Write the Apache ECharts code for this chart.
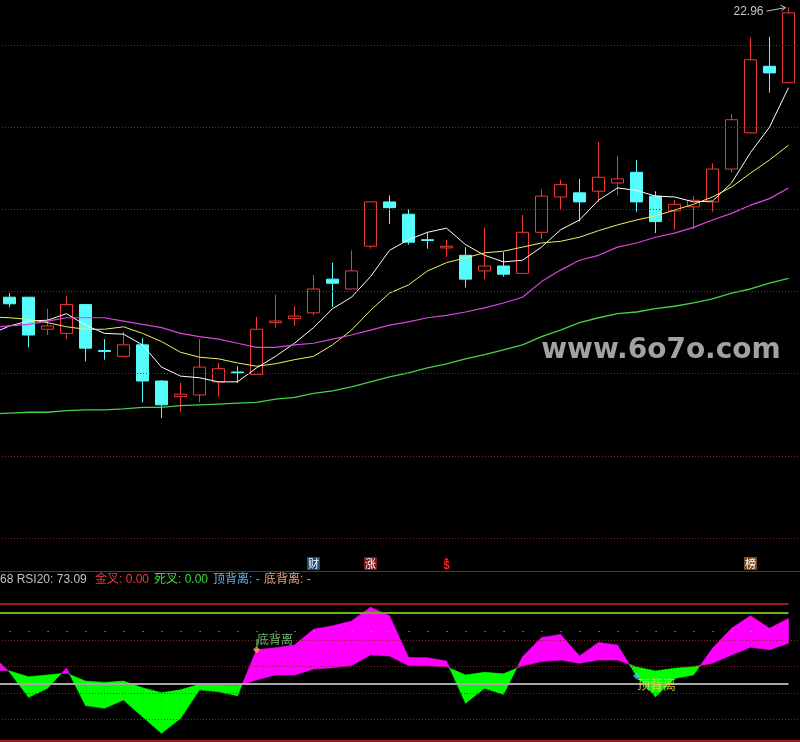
<!DOCTYPE html>
<html><head><meta charset="utf-8">
<script src="https://cdn.jsdelivr.net/npm/echarts@6/dist/echarts.min.js"></script>
<style>html,body{margin:0;padding:0;background:#000;width:800px;height:742px;overflow:hidden;position:relative;}#c{position:absolute;left:-19px;top:0;width:819px;height:742px;}</style>
</head><body><div id="c"></div>
<script>
// categories (first one is the partially hidden bar at the left edge)
const days = ['d00','d01','d02','d03','d04','d05','d06','d07','d08','d09','d10','d11','d12','d13','d14','d15','d16','d17','d18','d19','d20','d21','d22','d23','d24','d25','d26','d27','d28','d29','d30','d31','d32','d33','d34','d35','d36','d37','d38','d39','d40','d41','d42'];
// OHLC for the 42 visible candles
const opens  = [19.43,19.43,19.04,18.99,19.34,18.78,18.71,18.85,18.41,18.22,18.24,18.40,18.52,18.49,19.12,19.17,19.24,19.65,19.53,20.05,20.59,20.44,20.13,20.03,19.94,19.75,19.81,19.72,20.22,20.65,20.70,20.72,20.82,20.95,20.66,20.48,20.53,20.59,20.99,21.43,22.24,22.04];
const closes = [19.35,18.97,19.08,19.34,18.81,18.77,18.85,18.41,18.12,18.25,18.58,18.56,18.51,19.04,19.14,19.20,19.53,19.60,19.75,20.59,20.52,20.10,20.12,20.05,19.65,19.81,19.71,20.22,20.66,20.80,20.59,20.89,20.87,20.59,20.35,20.56,20.61,20.99,21.59,22.32,22.16,22.89];
const lows   = [19.31,18.82,18.97,18.92,18.65,18.67,18.71,18.15,17.96,18.03,18.15,18.22,18.39,18.49,19.06,19.08,19.21,19.31,19.53,20.02,20.32,20.07,20.02,19.92,19.55,19.65,19.68,19.72,20.14,20.49,20.35,20.59,20.67,20.47,20.21,20.25,20.26,20.47,20.95,21.42,21.92,22.04];
const highs  = [19.48,19.43,19.29,19.45,19.34,18.92,19.01,18.93,18.42,18.39,18.92,18.63,18.59,19.19,19.46,19.32,19.70,19.85,20.00,20.59,20.67,20.50,20.22,20.13,20.04,20.28,19.98,20.43,20.74,20.86,20.87,21.32,21.15,21.10,20.72,20.61,20.66,21.06,21.66,22.59,22.60,22.96];
// moving averages (43 values, incl. the left-edge bar)
const ma5  = [18.98,19.08,19.14,19.15,19.23,19.09,18.99,18.98,18.85,18.58,18.47,18.45,18.40,18.40,18.57,18.71,18.87,19.06,19.29,19.43,19.68,20.00,20.13,20.22,20.27,20.07,19.94,19.86,19.88,20.04,20.25,20.37,20.61,20.76,20.73,20.66,20.65,20.59,20.60,20.82,21.19,21.50,21.98];
const ma10 = [19.19,19.18,19.16,19.12,19.07,19.04,19.04,19.07,18.99,18.89,18.76,18.70,18.68,18.63,18.59,18.62,18.67,18.71,18.85,19.03,19.27,19.48,19.58,19.75,19.85,19.91,19.97,19.99,20.04,20.09,20.11,20.16,20.24,20.31,20.37,20.42,20.49,20.56,20.65,20.77,20.94,21.10,21.28];
const ma20 = [19.06,19.08,19.10,19.14,19.18,19.18,19.18,19.14,19.10,19.06,18.99,18.95,18.92,18.87,18.82,18.82,18.85,18.87,18.92,18.97,19.03,19.09,19.13,19.18,19.21,19.25,19.30,19.36,19.43,19.62,19.76,19.88,19.94,20.04,20.09,20.16,20.21,20.28,20.37,20.45,20.55,20.63,20.76];
const ma60 = [18.01,18.02,18.03,18.03,18.05,18.06,18.06,18.07,18.09,18.09,18.11,18.12,18.13,18.14,18.15,18.19,18.21,18.26,18.29,18.34,18.40,18.46,18.51,18.57,18.62,18.68,18.73,18.79,18.85,18.95,19.03,19.12,19.18,19.23,19.25,19.29,19.32,19.36,19.41,19.48,19.53,19.60,19.66];
// RSI panel (43 values)
const rsiFast = [61.3,54.5,45.0,48.4,56.0,41.9,40.9,44.0,37.7,31.5,37.1,47.8,47.1,45.6,62.8,63.6,64.6,70.5,71.8,73.6,78.8,75.6,59.9,59.8,58.6,42.8,48.4,46.1,60.2,67.4,68.6,60.5,65.6,64.6,53.0,45.2,52.1,53.4,63.4,70.9,75.6,70.9,74.6];
const rsiSlow = [55.3,54.9,52.7,53.4,54.1,51.1,50.6,51.1,48.6,46.7,47.8,49.9,49.6,49.4,51.5,53.4,53.4,55.6,56.1,56.9,60.9,60.5,56.9,56.8,56.5,53.4,54.4,53.8,56.8,58.4,59.0,57.8,59.0,59.0,56.4,54.9,55.9,56.5,57.8,60.9,63.8,62.8,65.3];
// guide levels
const priceGrid = [16.5,17.5,18.5,19.5,20.5,21.5,22.5];
const rsiGrid = [66.5,56.6,46.5,36.8];
const rsiHigh = 80, rsiWarn = 76.7, rsiMid = 50, rsiDots = 69.9;
const peakPrice = 22.96;
// event tags (candle index, text)
const tagIdx = [16,19,23,39];
const tagText = ['财','涨','$','榜'];
const tagBg = ['#1d4b78','#7c1515',null,'#7a4a1e'];
const divBottomIdx = 13, divTopIdx = 33;
const headerTexts = ['68 RSI20: 73.09','金叉: 0.00','死叉: 0.00','顶背离: -','底背离: -'];

const candles = ['-'].concat(opens.map((o,i)=>[o,closes[i],lows[i],highs[i]]));

const chart = echarts.init(document.getElementById('c'), null, {renderer:'canvas'});
const OX = 19; // canvas is shifted 19px left so the first (cut) bar sits off-page
const GW = 817;
const dot = {color:'#8a2424', type:[1,2], width:1};

function poly(pts, c){ return {type:'polygon', shape:{points:pts}, style:{fill:c, stroke:c, lineWidth:0.6}}; }

chart.setOption({
  backgroundColor:'#000',
  animation:false,
  grid:[
    {left:0, width:GW, top:0, height:571},
    {left:0, width:GW, top:571, height:171}
  ],
  xAxis:[
    {type:'category', data:days, gridIndex:0, show:false, boundaryGap:true},
    {type:'category', data:days, gridIndex:1, show:false, boundaryGap:true}
  ],
  yAxis:[
    {type:'value', gridIndex:0, min:16.098, max:23.047, show:false, splitLine:{show:false}},
    {type:'value', gridIndex:1, min:28.25, max:92.375, show:false, splitLine:{show:false}}
  ],
  series:[
    {type:'candlestick', xAxisIndex:0, yAxisIndex:0, data:candles, barWidth:13, z:3,
     itemStyle:{color:'#000', color0:'#54fcfc', borderColor:'#ec3a36', borderColor0:'#54fcfc', borderWidth:1},
     markLine:{silent:true, symbol:['none','none'], label:{show:false}, lineStyle:dot,
       data:priceGrid.map(v=>({yAxis:v}))}},
    {type:'line', name:'MA5', data:ma5, xAxisIndex:0, yAxisIndex:0, showSymbol:false, lineStyle:{color:'#ffffff', width:1}, z:4},
    {type:'line', name:'MA10', data:ma10, xAxisIndex:0, yAxisIndex:0, showSymbol:false, lineStyle:{color:'#f0f064', width:1}, z:4},
    {type:'line', name:'MA20', data:ma20, xAxisIndex:0, yAxisIndex:0, showSymbol:false, lineStyle:{color:'#dc46dc', width:1.2}, z:4},
    {type:'line', name:'MA60', data:ma60, xAxisIndex:0, yAxisIndex:0, showSymbol:false, lineStyle:{color:'#46d246', width:1.3}, z:4},
    // RSI guides
    {type:'line', xAxisIndex:1, yAxisIndex:1, data:[], z:2,
     markLine:{silent:true, symbol:['none','none'], label:{show:false},
       data:[
         ...rsiGrid.map(v=>({yAxis:v, lineStyle:dot})),
         [{coord:[0,rsiHigh], lineStyle:{color:'#a01c1c', width:2.2, type:'solid'}},{coord:[days.length-1,rsiHigh]}],
         [{coord:[0,rsiWarn], lineStyle:{color:'#64b41e', width:2, type:'solid'}},{coord:[days.length-1,rsiWarn]}],
         [{coord:[0,rsiMid], lineStyle:{color:'#a8a8a8', width:2, type:'solid'}},{coord:[days.length-1,rsiMid]}],
         [{coord:[1,rsiDots], lineStyle:{color:'#40c8c8', width:1.2, type:[1.2,17.8]}},{coord:[days.length-1,rsiDots]}]
       ]}},
    // RSI band fill
    {type:'custom', xAxisIndex:1, yAxisIndex:1, z:3,
     data:days.slice(0,-1).map((d,i)=>[i]),
     encode:{x:0},
     renderItem:function(params, api){
       const i = api.value(0);
       const f0 = api.coord([i, rsiFast[i]]), s0 = api.coord([i, rsiSlow[i]]);
       const f1 = api.coord([i+1, rsiFast[i+1]]), s1 = api.coord([i+1, rsiSlow[i+1]]);
       const d0 = rsiFast[i]-rsiSlow[i], d1 = rsiFast[i+1]-rsiSlow[i+1];
       const col = d => d >= 0 ? '#ff00ff' : '#00ff00';
       const ch = [];
       if (d0*d1 >= 0) ch.push(poly([f0,f1,s1,s0], col(d0 !== 0 ? d0 : d1)));
       else {
         const t = d0/(d0-d1);
         const c = [f0[0]+(f1[0]-f0[0])*t, f0[1]+(f1[1]-f0[1])*t];
         ch.push(poly([f0,c,s0], col(d0)));
         ch.push(poly([c,f1,s1], col(d1)));
       }
       return {type:'group', children:ch};
     }},
    // divergence markers
    {type:'scatter', xAxisIndex:1, yAxisIndex:1, z:6, symbol:'diamond', symbolSize:7,
     data:[
       {value:[days[divBottomIdx+1], rsiFast[divBottomIdx+1]], itemStyle:{color:'#ffa060'},
        label:{show:true, formatter:'底背离', position:[4,-13], color:'#86e086', fontSize:12, fontFamily:'Noto Sans CJK SC'}},
       {value:[days[divTopIdx+1], rsiFast[divTopIdx+1]], itemStyle:{color:'#40c0ff'},
        label:{show:true, formatter:'顶背离', position:[4,5], color:'#e8e84a', fontSize:13, fontFamily:'Noto Sans CJK SC'}}
     ]}
  ]
});

// overlay texts / frame
const g = [];
g.push({type:'line', shape:{x1:0,y1:571.5,x2:GW+2,y2:571.5}, style:{stroke:'#8c1e1e', lineWidth:1}, z:10});
g.push({type:'line', shape:{x1:0,y1:741,x2:GW+2,y2:741}, style:{stroke:'#a01c1c', lineWidth:2}, z:10});
const hx = [0,95,154,213,264];
const hc = ['#c0c0c0','#e83c3c','#3cdc3c','#5ab4f0','#f0a078'];
headerTexts.forEach((t,k)=>{
  g.push({type:'text', x:hx[k]+OX, y:574, z:10, style:{text:t, fill:hc[k], font:'12px "Liberation Sans","Noto Sans CJK SC"'}});
});
tagIdx.forEach((ci,k)=>{
  const cx = chart.convertToPixel({xAxisIndex:0}, days[ci+1]);
  if (tagBg[k]) {
    g.push({type:'rect', shape:{x:cx-6.5,y:557,width:13,height:13}, style:{fill:tagBg[k]}, z:10});
    g.push({type:'text', x:cx, y:563.5, z:11, style:{text:tagText[k], fill:'#ffffff', font:'11px "Noto Sans CJK SC"',
      align:'center', verticalAlign:'middle', textAlign:'center', textVerticalAlign:'middle'}});
  } else {
    g.push({type:'polygon', shape:{points:[[cx-2.5,560.5],[cx,557.5],[cx+2.5,560.5]]}, style:{fill:'#ff2020'}, z:11});
    g.push({type:'text', x:cx, y:565.5, z:11, style:{text:tagText[k], fill:'#ff2020', font:'bold 11px "Liberation Sans"',
      align:'center', verticalAlign:'middle', textAlign:'center', textVerticalAlign:'middle'}});
  }
});
// thin tick from the bottom-divergence marker up to its label
const db = chart.convertToPixel({xAxisIndex:1, yAxisIndex:1}, [days[divBottomIdx+1], rsiFast[divBottomIdx+1]]);
g.push({type:'line', shape:{x1:db[0]+0.5,y1:db[1]-3,x2:db[0]+0.5,y2:db[1]-11}, style:{stroke:'#86e086', lineWidth:1}, z:10});
const pk = chart.convertToPixel({xAxisIndex:0, yAxisIndex:0}, [days[days.length-1], peakPrice]);
g.push({type:'text', x:pk[0]-25, y:pk[1]+4.5, z:10, style:{text:peakPrice.toFixed(2), fill:'#c4c4c4', font:'12px "Liberation Sans"', align:'right', verticalAlign:'middle', textAlign:'right', textVerticalAlign:'middle'}});
g.push({type:'line', shape:{x1:pk[0]-22,y1:pk[1]+4,x2:pk[0]-3,y2:pk[1]+0.5}, style:{stroke:'#c4c4c4', lineWidth:1}, z:10});
g.push({type:'polyline', shape:{points:[[pk[0]-8,pk[1]-2],[pk[0]-3,pk[1]+0.5],[pk[0]-7,pk[1]+3.5]]}, style:{stroke:'#c4c4c4', lineWidth:1, fill:null}, z:10});
g.push({type:'text', x:661+OX, y:351, z:12, style:{text:'www.6o7o.com', fill:'rgba(190,190,190,0.85)', font:'bold 28px "DejaVu Sans"', align:'center', verticalAlign:'middle', textAlign:'center', textVerticalAlign:'middle'}});
chart.setOption({graphic:g});
</script></body></html>
